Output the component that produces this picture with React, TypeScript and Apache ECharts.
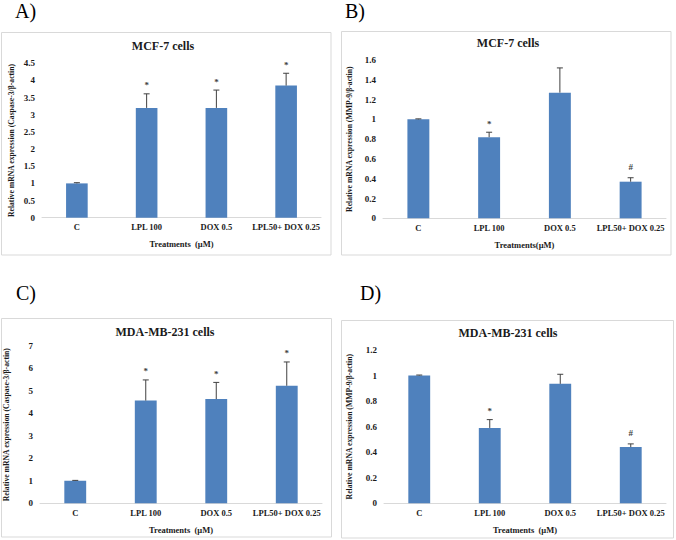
import React, { useEffect, useRef } from "react";
import * as echarts from "echarts";

const categories = ["C", "LPL 100", "DOX 0.5", "LPL50+ DOX 0.25"];

// A) MCF-7 Caspase-3
const mcf7Caspase = [1.0, 3.2, 3.2, 3.85];
const mcf7CaspaseErr = [0.02, 0.41, 0.52, 0.36];
const mcf7CaspaseMarks = ["", "*", "*", "*"];
const mcf7CaspaseTicks = { max: 4.5, interval: 0.5 };

// B) MCF-7 MMP-9
const mcf7Mmp = [1.0, 0.82, 1.27, 0.37];
const mcf7MmpErr = [0.005, 0.05, 0.25, 0.04];
const mcf7MmpMarks = ["", "*", "", "#"];
const mcf7MmpTicks = { max: 1.6, interval: 0.2 };

// C) MDA-MB-231 Caspase-3
const mdaCaspase = [1.0, 4.57, 4.64, 5.23];
const mdaCaspaseErr = [0.02, 0.92, 0.74, 1.06];
const mdaCaspaseMarks = ["", "*", "*", "*"];
const mdaCaspaseTicks = { max: 7, interval: 1 };

// D) MDA-MB-231 MMP-9
const mdaMmp = [1.0, 0.59, 0.935, 0.44];
const mdaMmpErr = [0.004, 0.065, 0.075, 0.025];
const mdaMmpMarks = ["", "*", "", "#"];
const mdaMmpTicks = { max: 1.2, interval: 0.2 };

const FONT = "Liberation Serif";
const BAR = "#4F81BD";

const panels = [
  {
    letter: "A)", title: "MCF-7 cells", values: mcf7Caspase, errs: mcf7CaspaseErr, marks: mcf7CaspaseMarks, ticks: mcf7CaspaseTicks,
    yName: "Relative mRNA expression (Caspase-3/β-actin)", xName: "Treatments  (µM)",
    grid: { left: 42, top: 63.3, width: 279, height: 154.4 },
    box: { x: 1.5, y: 32.5, w: 329.5, h: 222.5 }, letterPos: [15, 1], titlePos: [163, 46], yGap: 27,
  },
  {
    letter: "B)", title: "MCF-7 cells", values: mcf7Mmp, errs: mcf7MmpErr, marks: mcf7MmpMarks, ticks: mcf7MmpTicks,
    yName: "Relative mRNA expression (MMP-9/β-actin)", xName: "Treatments(µM)",
    grid: { left: 383, top: 60, width: 283, height: 158.3 },
    box: { x: 341.5, y: 31.5, w: 329.5, h: 223.5 }, letterPos: [345, 1], titlePos: [508, 43], yGap: 30,
  },
  {
    letter: "C)", title: "MDA-MB-231 cells", values: mdaCaspase, errs: mdaCaspaseErr, marks: mdaCaspaseMarks, ticks: mdaCaspaseTicks,
    yName: "Relative mRNA expression (Caspase-3/β-actin)", xName: "Treatments  (µM)",
    grid: { left: 40, top: 346, width: 282, height: 157.3 },
    box: { x: 1.5, y: 318.5, w: 330, h: 218.5 }, letterPos: [16, 283], titlePos: [165, 332], yGap: 30,
  },
  {
    letter: "D)", title: "MDA-MB-231 cells", values: mdaMmp, errs: mdaMmpErr, marks: mdaMmpMarks, ticks: mdaMmpTicks,
    yName: "Relative mRNA expression (MMP-9/β-actin)", xName: "Treatments  (µM)",
    grid: { left: 384, top: 350, width: 282, height: 153.3 },
    box: { x: 341.5, y: 320.5, w: 332, h: 217.5 }, letterPos: [360, 283], titlePos: [508, 333], yGap: 31,
  },
];

function buildOption() {
  const grids: any[] = [];
  const xAxes: any[] = [];
  const yAxes: any[] = [];
  const series: any[] = [];
  const graphics: any[] = [];

  panels.forEach((p, k) => {
    grids.push({ ...p.grid, containLabel: false });
    xAxes.push({
      type: "category", gridIndex: k, data: categories,
      axisLine: { lineStyle: { color: "#d9d9d9", width: 1 } },
      axisTick: { show: false },
      axisLabel: { interval: 0, margin: 5, fontFamily: FONT, fontWeight: "bold", fontSize: 8.5, color: "#1a1a1a" },
      name: p.xName, nameLocation: "middle", nameGap: 22,
      nameTextStyle: { fontFamily: FONT, fontWeight: "bold", fontSize: 8.5, color: "#1a1a1a" },
    });
    yAxes.push({
      type: "value", gridIndex: k, min: 0, max: p.ticks.max, interval: p.ticks.interval,
      axisLine: { show: false }, axisTick: { show: false }, splitLine: { show: false },
      axisLabel: { margin: 7, fontFamily: FONT, fontWeight: "bold", fontSize: 9, color: "#1a1a1a" },
      name: p.yName, nameLocation: "middle", nameRotate: 90, nameGap: p.yGap,
      nameTextStyle: { fontFamily: FONT, fontWeight: "bold", fontSize: 7.7, color: "#1a1a1a" },
    });
    series.push({
      type: "bar", xAxisIndex: k, yAxisIndex: k, data: p.values, barWidth: "31%",
      itemStyle: { color: BAR }, silent: true,
    });
    const marks = p.marks;
    series.push({
      type: "custom", xAxisIndex: k, yAxisIndex: k, z: 5, silent: true,
      data: p.values.map((v, i) => [i, v + p.errs[i], v]),
      renderItem: (params: any, api: any) => {
        const i = api.value(0);
        const top = api.coord([i, api.value(1)]);
        const base = api.coord([i, api.value(2)]);
        const children: any[] = [
          { type: "line", shape: { x1: top[0], y1: base[1], x2: top[0], y2: top[1] }, style: { stroke: "#404040", lineWidth: 1 } },
          { type: "line", shape: { x1: top[0] - 3, y1: top[1], x2: top[0] + 3, y2: top[1] }, style: { stroke: "#404040", lineWidth: 1 } },
        ];
        const m = marks[params.dataIndex];
        if (m) {
          children.push({
            type: "text", x: top[0], y: top[1] - (m === "#" ? 6 : 4),
            style: { text: m, align: "center", verticalAlign: "bottom", fontFamily: FONT, fontWeight: "bold", fontSize: 9, fill: "#404040" },
          });
        }
        return { type: "group", children };
      },
    });
    graphics.push({
      type: "rect", shape: { x: p.box.x, y: p.box.y, width: p.box.w, height: p.box.h },
      style: { fill: "none", stroke: "#d9d9d9", lineWidth: 1 }, silent: true,
    });
    graphics.push({
      type: "text", x: p.letterPos[0], y: p.letterPos[1],
      style: { text: p.letter, fontFamily: FONT, fontSize: 20, fill: "#000", verticalAlign: "top" },
    });
    graphics.push({
      type: "text", x: p.titlePos[0], y: p.titlePos[1],
      style: { text: p.title, fontFamily: FONT, fontWeight: "bold", fontSize: 12, fill: "#1a1a1a", align: "center", verticalAlign: "middle" },
    });
  });

  return {
    animation: false,
    backgroundColor: "#ffffff",
    grid: grids, xAxis: xAxes, yAxis: yAxes, series, graphic: graphics,
  };
}

export default function App() {
  const ref = useRef<HTMLDivElement>(null);
  useEffect(() => {
    if (!ref.current) return;
    const chart = echarts.init(ref.current, undefined, { renderer: "svg" });
    chart.setOption(buildOption() as any);
    return () => chart.dispose();
  }, []);
  return <div ref={ref} style={{ position: "fixed", left: 0, top: 0, width: 676, height: 540 }} />;
}
